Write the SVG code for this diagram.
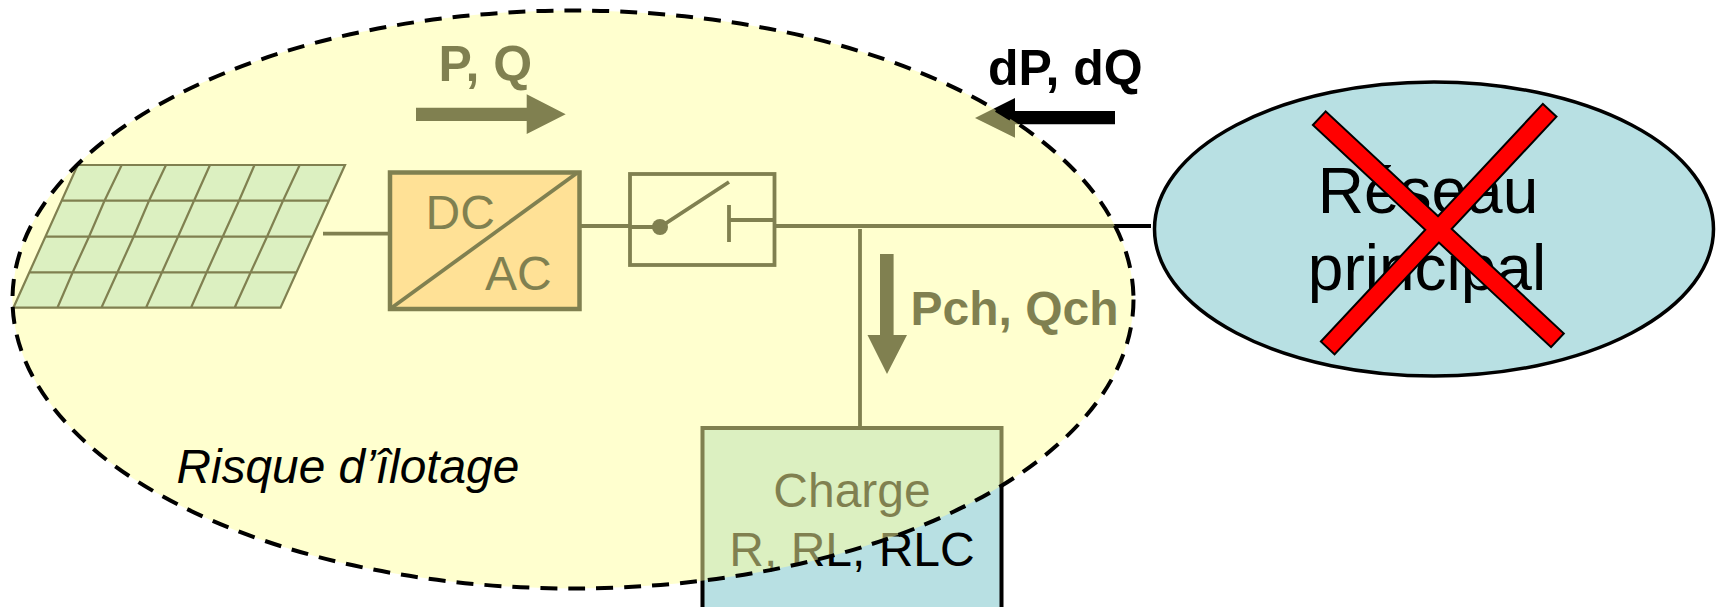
<svg xmlns="http://www.w3.org/2000/svg" width="1717" height="607" viewBox="0 0 1717 607">
<style>
text{font-family:"Liberation Sans",Arial,sans-serif;fill:#000}
.b{font-weight:bold}
.m{text-anchor:middle}
.fill{fill:#B8E0E3}
.ln{fill:none;stroke:#000;stroke-width:3.8}
.grid{fill:none;stroke:#000;stroke-width:2.2}
.bar{fill:#f00;stroke:#000;stroke-width:4;stroke-linejoin:miter}
.barf{fill:#f00}
</style>
<rect width="1717" height="607" fill="#fff"/>
<g id="connectors">
<path class="ln" d="M323 233.7H390M580 226H629M775 226H1151M860 229V426"/>
</g>
<g id="flow-pq"><path d="M416 107.7H526.7V94.3L565.7 114.3L526.7 134V121H416Z"/><text class="b" x="438.5" y="81" font-size="50">P, Q</text></g>
<g id="flow-dpdq"><path d="M1115 111H1015V98L975 118L1015 137.7V124.3H1115Z"/><text class="b" x="988" y="85" font-size="50">dP, dQ</text></g>
<g id="flow-pch"><path d="M880 254H893.6V335H907L887 374L867.5 335H880Z"/><text class="b" x="910.5" y="325" font-size="48">Pch, Qch</text></g>
<g id="pv-panel">
<path class="fill" d="M77.7 165H345L280.5 307.7H13.4Z"/>
<path class="grid" d="M77.7 165H345L280.5 307.7H13.4ZM61.6 200.7H328M45 236.7H313M29.5 272.3H296.6M121.7 165L104.5 200.7L89 236.7L72.7 272.3L57.4 307.7M166 165L149 200.7L133.6 236.7L117.5 272.3L101.4 307.7M210 165L194 200.7L178 236.7L162 272.3L146 307.7M254.5 165L239 200.7L222.7 236.7L206.7 272.3L191 307.7M299.7 165L283 200.7L267 236.7L250.7 272.3L234.6 307.7"/>
</g>
<g id="converter">
<rect x="390" y="172.5" width="189.5" height="136.5" fill="#FFC28C" stroke="#000" stroke-width="4.5"/>
<path class="ln" d="M390 309L577 173"/>
<text x="425.5" y="229" font-size="48">DC</text>
<text x="485" y="290" font-size="48">AC</text>
</g>
<g id="switch">
<rect x="630" y="174" width="144.5" height="91" fill="none" stroke="#000" stroke-width="3.8"/>
<path class="ln" d="M630 227H660L729 182M729 205V242M729 220H775"/>
<circle cx="660" cy="227" r="8"/>
</g>
<g id="charge">
<rect x="702.5" y="428" width="299" height="190" class="fill" stroke="#000" stroke-width="4"/>
<text class="m" x="852" y="507" font-size="48">Charge</text>
<text class="m" x="852" y="566" font-size="48">R, RL, RLC</text>
</g>
<g id="reseau">
<ellipse cx="1434" cy="229" rx="279.5" ry="147" class="fill" stroke="#000" stroke-width="3.5"/>
<text class="m" x="1428" y="213" font-size="64">Réseau</text>
<text class="m" x="1427" y="290" font-size="64">principal</text>
<polygon class="bar" points="1325.7,112.8 1314.3,125 1551,345.7 1562.4,333.5"/>
<polygon class="bar" points="1555.1,116.7 1542.9,105.3 1322.3,341.5 1334.5,352.9"/>
<polygon class="barf" points="1325.7,112.8 1314.3,125 1551,345.7 1562.4,333.5"/>
<polygon class="barf" points="1555.1,116.7 1542.9,105.3 1322.3,341.5 1334.5,352.9"/>
</g>
<g id="ilotage">
<ellipse cx="573" cy="299.5" rx="560.5" ry="289" fill="#FFFF9F" fill-opacity="0.5"/>
<ellipse cx="573" cy="299.5" rx="560.5" ry="289" fill="none" stroke="#000" stroke-width="4" stroke-dasharray="17 11"/>
<text x="176.5" y="483" font-size="47.8" font-style="italic">Risque d’îlotage</text>
</g>
</svg>
